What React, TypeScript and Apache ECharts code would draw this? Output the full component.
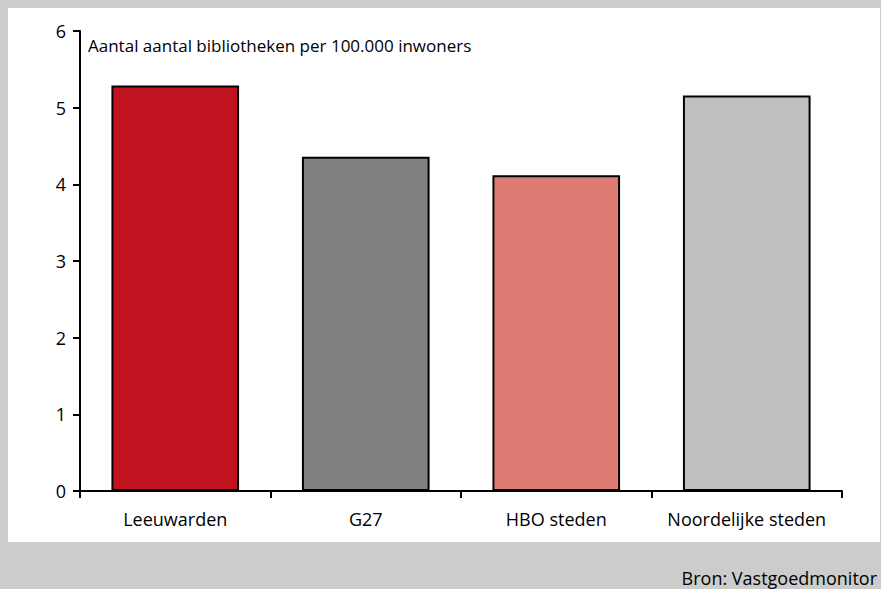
import React, { useEffect, useRef } from "react";
import * as echarts from "echarts";

const categories = ["Leeuwarden", "G27", "HBO steden", "Noordelijke steden"];
const values = [5.29, 4.36, 4.12, 5.16];
const barColors = ["#c1121f", "#808080", "#de7b72", "#c0c0c0"];
const yTicks = [0, 1, 2, 3, 4, 5, 6];
const titleText = "Aantal aantal bibliotheken per 100.000 inwoners";
const sourceText = "Bron: Vastgoedmonitor";

const FONT = "'Open Sans', 'Noto Sans', sans-serif";

export default function App() {
  const ref = useRef<HTMLDivElement>(null);
  useEffect(() => {
    if (!ref.current) return;
    const chart = echarts.init(ref.current, undefined, { renderer: "svg" });
    chart.setOption({
      animation: false,
      backgroundColor: "#cccccc",
      graphic: [
        {
          type: "rect",
          z: -10,
          shape: { x: 8, y: 8, width: 872, height: 534 },
          style: { fill: "#ffffff" },
          silent: true,
        },
        {
          type: "text",
          x: 88,
          y: 45,
          style: {
            text: titleText,
            font: `17px ${FONT}`,
            fill: "#000",
            verticalAlign: "middle",
          },
        },
        {
          type: "text",
          x: 877,
          y: 578,
          style: {
            text: sourceText,
            font: `18px ${FONT}`,
            fill: "#000",
            align: "right",
            verticalAlign: "middle",
          },
        },
      ],
      grid: { left: 80, right: 39, top: 31, bottom: 98, containLabel: false },
      xAxis: {
        type: "category",
        data: categories,
        axisLine: { lineStyle: { color: "#000", width: 2 } },
        axisTick: { show: true, interval: 0, length: 7, lineStyle: { color: "#000", width: 2 } },
        axisLabel: {
          color: "#000",
          fontSize: 18,
          fontFamily: FONT,
          margin: 19,
          interval: 0,
          hideOverlap: false,
        },
      },
      yAxis: {
        type: "value",
        min: yTicks[0],
        max: yTicks[yTicks.length - 1],
        interval: 1,
        splitLine: { show: false },
        axisLine: { show: true, lineStyle: { color: "#000", width: 2 } },
        axisTick: { show: true, length: 7, lineStyle: { color: "#000", width: 2 } },
        axisLabel: { color: "#000", fontSize: 18, fontFamily: FONT, margin: 14 },
      },
      series: [
        {
          type: "bar",
          barCategoryGap: "33%",
          data: values.map((v, i) => ({
            value: v,
            itemStyle: { color: barColors[i], borderColor: "#000", borderWidth: 2 },
          })),
        },
      ],
    });
    return () => chart.dispose();
  }, []);
  return (
    <div
      ref={ref}
      style={{ position: "fixed", left: 0, top: 0, width: 881, height: 589 }}
    />
  );
}
